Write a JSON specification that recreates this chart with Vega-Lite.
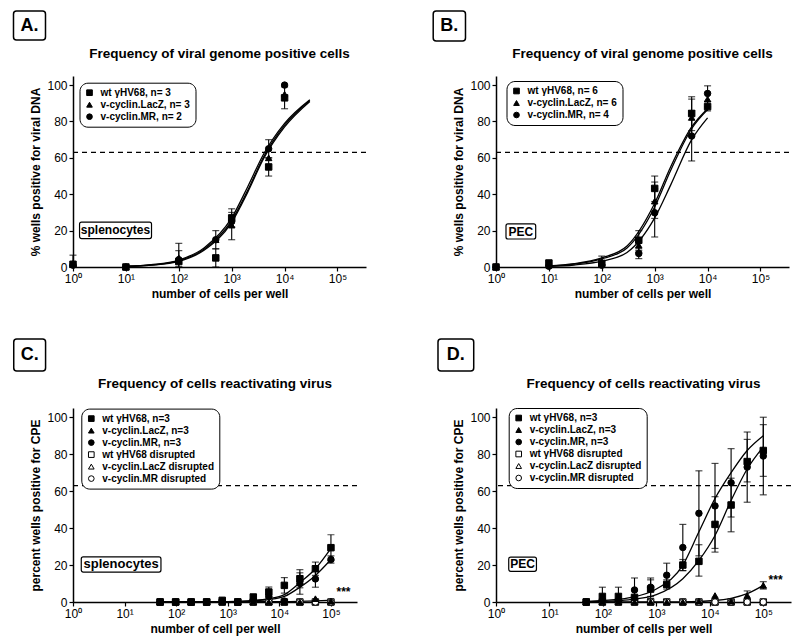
{
"$schema": "https://vega.github.io/schema/vega-lite/v6.json",
"background": "white",
"padding": {"left": 12, "top": 10, "right": 5, "bottom": 5},
"config": {
  "font": "Liberation Sans",
  "view": {"stroke": null},
  "axis": {"grid": false, "domainColor": "black", "domainWidth": 1.5, "tickColor": "black", "tickWidth": 1.2, "tickSize": 4, "labelColor": "black", "labelFontSize": 12, "labelPadding": 2, "labelOverlap": false, "labelFlush": false, "titleColor": "black", "titleFontSize": 12, "titleFontWeight": "bold", "titlePadding": 4},
  "title": {"fontSize": 13.5, "fontWeight": "bold", "color": "black", "frame": "group", "offset": 0},
  "legend": {"strokeColor": "black", "cornerRadius": 8, "padding": 5, "fillColor": "white", "labelFontSize": 10, "labelFontWeight": "bold", "labelColor": "black", "symbolSize": 32, "rowPadding": 2, "labelOffset": 6, "symbolStrokeWidth": 1, "symbolStrokeColor": "black"},
  "tick": {"orient": "horizontal", "size": 7, "thickness": 1.2, "color": "black"}
},
"datasets": {
  "pA": [
    {"x":1,"y":1,"s":"v-cyclin.MR, n= 2"},{"x":10,"y":0,"s":"v-cyclin.MR, n= 2"},{"x":100,"y":4,"s":"v-cyclin.MR, n= 2"},{"x":500,"y":15,"s":"v-cyclin.MR, n= 2"},{"x":1000,"y":25,"s":"v-cyclin.MR, n= 2"},{"x":5000,"y":65,"s":"v-cyclin.MR, n= 2","lo":60,"hi":70},{"x":10000,"y":100,"s":"v-cyclin.MR, n= 2"},
    {"x":1,"y":2,"s":"v-cyclin.LacZ, n= 3"},{"x":10,"y":0,"s":"v-cyclin.LacZ, n= 3"},{"x":100,"y":5,"s":"v-cyclin.LacZ, n= 3","lo":0,"hi":13},{"x":500,"y":15,"s":"v-cyclin.LacZ, n= 3","lo":10,"hi":20},{"x":1000,"y":23,"s":"v-cyclin.LacZ, n= 3","lo":15,"hi":30},{"x":5000,"y":60,"s":"v-cyclin.LacZ, n= 3"},{"x":10000,"y":95,"s":"v-cyclin.LacZ, n= 3"},
    {"x":1,"y":1.5,"s":"wt γHV68, n= 3","lo":0,"hi":6.5},{"x":10,"y":0,"s":"wt γHV68, n= 3"},{"x":100,"y":3,"s":"wt γHV68, n= 3","lo":0,"hi":9},{"x":500,"y":5,"s":"wt γHV68, n= 3","lo":0,"hi":10},{"x":1000,"y":27,"s":"wt γHV68, n= 3","lo":22,"hi":32},{"x":5000,"y":55,"s":"wt γHV68, n= 3","lo":50,"hi":60},{"x":10000,"y":93,"s":"wt γHV68, n= 3","lo":87,"hi":99}
  ],
  "cA": [
    {"x":10,"y":0.4,"c":"1"},{"x":30,"y":1.3,"c":"1"},{"x":100,"y":3.8,"c":"1"},{"x":300,"y":10.5,"c":"1"},{"x":1000,"y":27,"c":"1"},{"x":2000,"y":44,"c":"1"},{"x":4000,"y":62,"c":"1"},{"x":10000,"y":79,"c":"1"},{"x":30000,"y":92,"c":"1"},
    {"x":10,"y":0.3,"c":"2"},{"x":30,"y":1.1,"c":"2"},{"x":100,"y":3.4,"c":"2"},{"x":300,"y":9.8,"c":"2"},{"x":1000,"y":25.5,"c":"2"},{"x":2000,"y":42,"c":"2"},{"x":4000,"y":60.5,"c":"2"},{"x":10000,"y":78,"c":"2"},{"x":30000,"y":91.5,"c":"2"},
    {"x":10,"y":0.3,"c":"3"},{"x":30,"y":1.0,"c":"3"},{"x":100,"y":3.1,"c":"3"},{"x":300,"y":9.2,"c":"3"},{"x":1000,"y":24.5,"c":"3"},{"x":2000,"y":41,"c":"3"},{"x":4000,"y":59.5,"c":"3"},{"x":10000,"y":77,"c":"3"},{"x":30000,"y":91,"c":"3"}
  ],
  "pB": [
    {"x":1,"y":0,"s":"v-cyclin.MR, n= 4"},{"x":10,"y":0.4,"s":"v-cyclin.MR, n= 4"},{"x":100,"y":1,"s":"v-cyclin.MR, n= 4"},{"x":500,"y":7.4,"s":"v-cyclin.MR, n= 4","lo":4.6,"hi":10},{"x":1000,"y":29.8,"s":"v-cyclin.MR, n= 4","lo":16.5,"hi":43},{"x":5000,"y":72,"s":"v-cyclin.MR, n= 4","lo":58.3,"hi":86},{"x":10000,"y":95.4,"s":"v-cyclin.MR, n= 4","lo":91,"hi":99.6},
    {"x":1,"y":0,"s":"v-cyclin.LacZ, n= 6"},{"x":10,"y":1,"s":"v-cyclin.LacZ, n= 6"},{"x":100,"y":3,"s":"v-cyclin.LacZ, n= 6","lo":0,"hi":6},{"x":500,"y":12,"s":"v-cyclin.LacZ, n= 6","lo":8,"hi":16},{"x":1000,"y":36.2,"s":"v-cyclin.LacZ, n= 6","lo":26.7,"hi":46.7},{"x":5000,"y":82.2,"s":"v-cyclin.LacZ, n= 6","lo":72,"hi":92.3},{"x":10000,"y":92.3,"s":"v-cyclin.LacZ, n= 6","lo":88,"hi":96},
    {"x":1,"y":0,"s":"wt γHV68, n= 6"},{"x":10,"y":2.2,"s":"wt γHV68, n= 6"},{"x":100,"y":2,"s":"wt γHV68, n= 6"},{"x":500,"y":14.7,"s":"wt γHV68, n= 6","lo":9,"hi":20},{"x":1000,"y":43.2,"s":"wt γHV68, n= 6","lo":36,"hi":50},{"x":5000,"y":84.4,"s":"wt γHV68, n= 6","lo":75,"hi":93.6},{"x":10000,"y":88.2,"s":"wt γHV68, n= 6","lo":85.8,"hi":91}
  ],
  "cB": [
    {"x":10,"y":0.6,"c":"1"},{"x":30,"y":1.8,"c":"1"},{"x":100,"y":5,"c":"1"},{"x":300,"y":11.5,"c":"1"},{"x":1000,"y":35,"c":"1"},{"x":2000,"y":55,"c":"1"},{"x":5000,"y":77,"c":"1"},{"x":10000,"y":87,"c":"1"},
    {"x":10,"y":0.5,"c":"2"},{"x":30,"y":1.6,"c":"2"},{"x":100,"y":4.5,"c":"2"},{"x":300,"y":10.5,"c":"2"},{"x":1000,"y":33,"c":"2"},{"x":2000,"y":53,"c":"2"},{"x":5000,"y":76,"c":"2"},{"x":10000,"y":86.5,"c":"2"},
    {"x":10,"y":0.3,"c":"3"},{"x":30,"y":1.1,"c":"3"},{"x":100,"y":3.2,"c":"3"},{"x":300,"y":8,"c":"3"},{"x":1000,"y":27,"c":"3"},{"x":2000,"y":45,"c":"3"},{"x":5000,"y":70,"c":"3"},{"x":10000,"y":82,"c":"3"}
  ],
  "pC": [
    {"x":48.8,"y":0,"s":"wt γHV68 disrupted"},{"x":97.7,"y":0,"s":"wt γHV68 disrupted"},{"x":195,"y":0,"s":"wt γHV68 disrupted"},{"x":390,"y":0,"s":"wt γHV68 disrupted"},{"x":781,"y":0,"s":"wt γHV68 disrupted"},{"x":1562,"y":0,"s":"wt γHV68 disrupted"},{"x":3125,"y":0,"s":"wt γHV68 disrupted"},{"x":6250,"y":0,"s":"wt γHV68 disrupted"},{"x":12500,"y":0,"s":"wt γHV68 disrupted"},{"x":25000,"y":0,"s":"wt γHV68 disrupted"},{"x":50000,"y":0,"s":"wt γHV68 disrupted"},{"x":100000,"y":0,"s":"wt γHV68 disrupted"},
    {"x":48.8,"y":0,"s":"v-cyclin.LacZ disrupted"},{"x":97.7,"y":0,"s":"v-cyclin.LacZ disrupted"},{"x":195,"y":0,"s":"v-cyclin.LacZ disrupted"},{"x":390,"y":0,"s":"v-cyclin.LacZ disrupted"},{"x":781,"y":0,"s":"v-cyclin.LacZ disrupted"},{"x":1562,"y":0,"s":"v-cyclin.LacZ disrupted"},{"x":3125,"y":0,"s":"v-cyclin.LacZ disrupted"},{"x":6250,"y":0,"s":"v-cyclin.LacZ disrupted"},{"x":12500,"y":0,"s":"v-cyclin.LacZ disrupted"},{"x":25000,"y":0,"s":"v-cyclin.LacZ disrupted"},{"x":50000,"y":0,"s":"v-cyclin.LacZ disrupted"},{"x":100000,"y":0,"s":"v-cyclin.LacZ disrupted"},
    {"x":48.8,"y":0,"s":"v-cyclin.MR disrupted"},{"x":97.7,"y":0,"s":"v-cyclin.MR disrupted"},{"x":195,"y":0,"s":"v-cyclin.MR disrupted"},{"x":390,"y":0,"s":"v-cyclin.MR disrupted"},{"x":781,"y":0,"s":"v-cyclin.MR disrupted"},{"x":1562,"y":0,"s":"v-cyclin.MR disrupted"},{"x":3125,"y":0,"s":"v-cyclin.MR disrupted"},{"x":6250,"y":0,"s":"v-cyclin.MR disrupted"},{"x":12500,"y":0,"s":"v-cyclin.MR disrupted"},{"x":25000,"y":0,"s":"v-cyclin.MR disrupted"},{"x":50000,"y":0,"s":"v-cyclin.MR disrupted"},{"x":100000,"y":0,"s":"v-cyclin.MR disrupted"},
    {"x":48.8,"y":0,"s":"v-cyclin.MR, n=3"},{"x":97.7,"y":0,"s":"v-cyclin.MR, n=3"},{"x":195,"y":0,"s":"v-cyclin.MR, n=3"},{"x":390,"y":0,"s":"v-cyclin.MR, n=3"},{"x":781,"y":0.5,"s":"v-cyclin.MR, n=3"},{"x":1562,"y":0,"s":"v-cyclin.MR, n=3"},{"x":3125,"y":1,"s":"v-cyclin.MR, n=3"},{"x":6250,"y":3,"s":"v-cyclin.MR, n=3"},{"x":12500,"y":0.5,"s":"v-cyclin.MR, n=3"},{"x":25000,"y":10,"s":"v-cyclin.MR, n=3","lo":4.2,"hi":15.8},{"x":50000,"y":12.5,"s":"v-cyclin.MR, n=3","lo":8,"hi":17},{"x":100000,"y":23,"s":"v-cyclin.MR, n=3","lo":21,"hi":25},
    {"x":48.8,"y":0,"s":"v-cyclin.LacZ, n=3"},{"x":97.7,"y":0,"s":"v-cyclin.LacZ, n=3"},{"x":195,"y":0,"s":"v-cyclin.LacZ, n=3"},{"x":390,"y":0,"s":"v-cyclin.LacZ, n=3"},{"x":781,"y":0,"s":"v-cyclin.LacZ, n=3"},{"x":1562,"y":0,"s":"v-cyclin.LacZ, n=3"},{"x":3125,"y":0,"s":"v-cyclin.LacZ, n=3"},{"x":6250,"y":0,"s":"v-cyclin.LacZ, n=3"},{"x":12500,"y":0,"s":"v-cyclin.LacZ, n=3"},{"x":25000,"y":0,"s":"v-cyclin.LacZ, n=3"},{"x":50000,"y":1.8,"s":"v-cyclin.LacZ, n=3"},{"x":100000,"y":0.5,"s":"v-cyclin.LacZ, n=3"},
    {"x":48.8,"y":0,"s":"wt γHV68, n=3"},{"x":97.7,"y":0,"s":"wt γHV68, n=3"},{"x":195,"y":0,"s":"wt γHV68, n=3"},{"x":390,"y":0,"s":"wt γHV68, n=3"},{"x":781,"y":0.9,"s":"wt γHV68, n=3"},{"x":1562,"y":0,"s":"wt γHV68, n=3"},{"x":3125,"y":2.7,"s":"wt γHV68, n=3"},{"x":6250,"y":5.4,"s":"wt γHV68, n=3","lo":2.7,"hi":8.1},{"x":12500,"y":9,"s":"wt γHV68, n=3","lo":4.8,"hi":13.2},{"x":25000,"y":12.6,"s":"wt γHV68, n=3","lo":7.7,"hi":17.5},{"x":50000,"y":18,"s":"wt γHV68, n=3","lo":14.4,"hi":21.6},{"x":100000,"y":29.4,"s":"wt γHV68, n=3","lo":22.4,"hi":36.4}
  ],
  "cC": [
    {"x":48.8,"y":0,"c":"wt"},{"x":1000,"y":0.2,"c":"wt"},{"x":3125,"y":0.8,"c":"wt"},{"x":6250,"y":1.8,"c":"wt"},{"x":12500,"y":4,"c":"wt"},{"x":25000,"y":10.5,"c":"wt"},{"x":50000,"y":18,"c":"wt"},{"x":100000,"y":29,"c":"wt"},
    {"x":48.8,"y":0,"c":"mr"},{"x":1000,"y":0.1,"c":"mr"},{"x":3125,"y":0.6,"c":"mr"},{"x":6250,"y":1.3,"c":"mr"},{"x":12500,"y":3,"c":"mr"},{"x":25000,"y":8,"c":"mr"},{"x":50000,"y":14.4,"c":"mr"},{"x":100000,"y":23,"c":"mr"},
    {"x":48.8,"y":0,"c":"lacz"},{"x":10000,"y":0.2,"c":"lacz"},{"x":50000,"y":0.6,"c":"lacz"},{"x":100000,"y":1,"c":"lacz"}
  ],
  "pD": [
    {"x":48.8,"y":0,"s":"wt γHV68 disrupted"},{"x":97.7,"y":0,"s":"wt γHV68 disrupted"},{"x":195,"y":0,"s":"wt γHV68 disrupted"},{"x":390,"y":0,"s":"wt γHV68 disrupted"},{"x":781,"y":0,"s":"wt γHV68 disrupted"},{"x":1562,"y":0,"s":"wt γHV68 disrupted"},{"x":3125,"y":0,"s":"wt γHV68 disrupted"},{"x":6250,"y":0,"s":"wt γHV68 disrupted"},{"x":12500,"y":0,"s":"wt γHV68 disrupted"},{"x":25000,"y":0,"s":"wt γHV68 disrupted"},{"x":50000,"y":0,"s":"wt γHV68 disrupted"},{"x":100000,"y":0,"s":"wt γHV68 disrupted"},
    {"x":48.8,"y":0,"s":"v-cyclin.LacZ disrupted"},{"x":97.7,"y":0,"s":"v-cyclin.LacZ disrupted"},{"x":195,"y":0,"s":"v-cyclin.LacZ disrupted"},{"x":390,"y":0,"s":"v-cyclin.LacZ disrupted"},{"x":781,"y":0,"s":"v-cyclin.LacZ disrupted"},{"x":1562,"y":0,"s":"v-cyclin.LacZ disrupted"},{"x":3125,"y":0,"s":"v-cyclin.LacZ disrupted"},{"x":6250,"y":0,"s":"v-cyclin.LacZ disrupted"},{"x":12500,"y":0,"s":"v-cyclin.LacZ disrupted"},{"x":25000,"y":0,"s":"v-cyclin.LacZ disrupted"},{"x":50000,"y":0,"s":"v-cyclin.LacZ disrupted"},{"x":100000,"y":0,"s":"v-cyclin.LacZ disrupted"},
    {"x":48.8,"y":0,"s":"v-cyclin.MR disrupted"},{"x":97.7,"y":0,"s":"v-cyclin.MR disrupted"},{"x":195,"y":0,"s":"v-cyclin.MR disrupted"},{"x":390,"y":0,"s":"v-cyclin.MR disrupted"},{"x":781,"y":0,"s":"v-cyclin.MR disrupted"},{"x":1562,"y":0,"s":"v-cyclin.MR disrupted"},{"x":3125,"y":0,"s":"v-cyclin.MR disrupted"},{"x":6250,"y":0,"s":"v-cyclin.MR disrupted"},{"x":12500,"y":0,"s":"v-cyclin.MR disrupted"},{"x":25000,"y":0,"s":"v-cyclin.MR disrupted"},{"x":50000,"y":0,"s":"v-cyclin.MR disrupted"},{"x":100000,"y":0,"s":"v-cyclin.MR disrupted"},
    {"x":48.8,"y":0,"s":"v-cyclin.MR, n=3"},{"x":97.7,"y":1,"s":"v-cyclin.MR, n=3"},{"x":195,"y":1,"s":"v-cyclin.MR, n=3"},{"x":390,"y":6.5,"s":"v-cyclin.MR, n=3","lo":0,"hi":13},{"x":781,"y":8,"s":"v-cyclin.MR, n=3","lo":3,"hi":13},{"x":1562,"y":14.5,"s":"v-cyclin.MR, n=3","lo":8,"hi":21},{"x":3125,"y":29.5,"s":"v-cyclin.MR, n=3","lo":17,"hi":42},{"x":6250,"y":48,"s":"v-cyclin.MR, n=3","lo":25,"hi":71},{"x":12500,"y":52,"s":"v-cyclin.MR, n=3","lo":29,"hi":75},{"x":25000,"y":64.5,"s":"v-cyclin.MR, n=3","lo":46,"hi":83},{"x":50000,"y":73,"s":"v-cyclin.MR, n=3","lo":54,"hi":92},{"x":100000,"y":79,"s":"v-cyclin.MR, n=3","lo":58,"hi":100},
    {"x":48.8,"y":0,"s":"v-cyclin.LacZ, n=3"},{"x":97.7,"y":0,"s":"v-cyclin.LacZ, n=3"},{"x":195,"y":0,"s":"v-cyclin.LacZ, n=3"},{"x":390,"y":0,"s":"v-cyclin.LacZ, n=3"},{"x":781,"y":0,"s":"v-cyclin.LacZ, n=3"},{"x":1562,"y":0,"s":"v-cyclin.LacZ, n=3"},{"x":3125,"y":0,"s":"v-cyclin.LacZ, n=3"},{"x":6250,"y":0.5,"s":"v-cyclin.LacZ, n=3"},{"x":12500,"y":3.5,"s":"v-cyclin.LacZ, n=3"},{"x":25000,"y":0.5,"s":"v-cyclin.LacZ, n=3"},{"x":50000,"y":3.5,"s":"v-cyclin.LacZ, n=3","lo":1,"hi":6},{"x":100000,"y":9,"s":"v-cyclin.LacZ, n=3","lo":7,"hi":11},
    {"x":48.8,"y":0,"s":"wt γHV68, n=3"},{"x":97.7,"y":3,"s":"wt γHV68, n=3","lo":0,"hi":8},{"x":195,"y":3,"s":"wt γHV68, n=3","lo":0,"hi":8},{"x":390,"y":2.5,"s":"wt γHV68, n=3"},{"x":781,"y":7,"s":"wt γHV68, n=3","lo":2,"hi":12},{"x":1562,"y":9.5,"s":"wt γHV68, n=3","lo":7,"hi":12},{"x":3125,"y":20,"s":"wt γHV68, n=3","lo":17,"hi":23},{"x":6250,"y":22,"s":"wt γHV68, n=3","lo":14,"hi":31},{"x":12500,"y":42,"s":"wt γHV68, n=3","lo":27,"hi":57},{"x":25000,"y":52.5,"s":"wt γHV68, n=3","lo":38,"hi":67},{"x":50000,"y":76,"s":"wt γHV68, n=3","lo":65,"hi":88},{"x":100000,"y":82,"s":"wt γHV68, n=3","lo":68,"hi":96}
  ],
  "cD": [
    {"x":48.8,"y":0.3,"c":"mr"},{"x":100,"y":0.8,"c":"mr"},{"x":300,"y":2.2,"c":"mr"},{"x":1000,"y":7,"c":"mr"},{"x":3125,"y":20,"c":"mr"},{"x":6250,"y":38,"c":"mr"},{"x":12500,"y":56,"c":"mr"},{"x":25000,"y":70,"c":"mr"},{"x":50000,"y":82,"c":"mr"},{"x":100000,"y":90,"c":"mr"},
    {"x":48.8,"y":0.1,"c":"wt"},{"x":100,"y":0.4,"c":"wt"},{"x":300,"y":1.2,"c":"wt"},{"x":1000,"y":4,"c":"wt"},{"x":3125,"y":12.6,"c":"wt"},{"x":6250,"y":22.5,"c":"wt"},{"x":12500,"y":36,"c":"wt"},{"x":25000,"y":55,"c":"wt"},{"x":50000,"y":72,"c":"wt"},{"x":100000,"y":84,"c":"wt"},
    {"x":48.8,"y":0,"c":"lacz"},{"x":3125,"y":0.1,"c":"lacz"},{"x":12500,"y":0.8,"c":"lacz"},{"x":25000,"y":2,"c":"lacz"},{"x":50000,"y":4.5,"c":"lacz"},{"x":100000,"y":9,"c":"lacz"}
  ]
},
"columns": 2,
"align": "none",
"bounds": "flush",
"spacing": {"row": 141, "column": 130},
"resolve": {"scale": {"shape": "independent", "fill": "independent", "stroke": "independent", "x": "independent", "y": "independent"}, "legend": {"shape": "independent", "fill": "independent", "stroke": "independent"}},
"concat": [
 {
  "width": 293, "height": 191,
  "title": {"text": "Frequency of viral genome positive cells", "dy": 54},
  "layer": [
    {"data": {"name": "cA"}, "mark": {"type": "line", "interpolate": "monotone", "color": "black", "strokeWidth": 1.3},
     "encoding": {"x": {"field": "x", "type": "quantitative", "scale": {"type": "log", "domain": [1, 346000], "nice": false}, "axis": {"values": [1,10,100,1000,10000,100000], "labelExpr": "'10' + ['⁰','¹','²','³','⁴','⁵'][round(log(datum.value)/LN10)]", "title": "number of cells per well"}},
       "y": {"field": "y", "type": "quantitative", "scale": {"domain": [0, 105], "nice": false}, "axis": {"values": [0,20,40,60,80,100], "title": "% wells positive  for viral DNA"}},
       "detail": {"field": "c"}}},
    {"data": {"values": [{}]}, "mark": {"type": "rule", "strokeDash": [5, 4], "strokeWidth": 1.3, "color": "black"},
     "encoding": {"y": {"datum": 63, "type": "quantitative", "scale": {"domain": [0, 105], "nice": false}, "axis": {"values": [0,20,40,60,80,100], "title": "% wells positive  for viral DNA"}}}},
    {"data": {"name": "pA"}, "transform": [{"filter": "isValid(datum.hi)"}],
     "layer": [
       {"mark": {"type": "rule", "color": "black", "strokeWidth": 1.1}, "encoding": {"y": {"field": "lo", "type": "quantitative", "scale": {"domain": [0, 105], "nice": false}, "axis": {"values": [0,20,40,60,80,100], "title": "% wells positive  for viral DNA"}}, "y2": {"field": "hi"}}},
       {"mark": {"type": "tick"}, "encoding": {"y": {"field": "hi", "type": "quantitative", "scale": {"domain": [0, 105], "nice": false}, "axis": {"values": [0,20,40,60,80,100], "title": "% wells positive  for viral DNA"}}}},
       {"mark": {"type": "tick"}, "encoding": {"y": {"field": "lo", "type": "quantitative", "scale": {"domain": [0, 105], "nice": false}, "axis": {"values": [0,20,40,60,80,100], "title": "% wells positive  for viral DNA"}}}}
     ],
     "encoding": {"x": {"field": "x", "type": "quantitative"}}},
    {"data": {"name": "pA"}, "mark": {"type": "point", "filled": true, "strokeWidth": 1, "size": 42, "opacity": 1},
     "encoding": {"x": {"field": "x", "type": "quantitative"},
       "y": {"field": "y", "type": "quantitative", "scale": {"domain": [0, 105], "nice": false}, "axis": {"values": [0,20,40,60,80,100], "title": "% wells positive  for viral DNA"}},
       "shape": {"field": "s", "type": "nominal", "scale": {"domain": ["wt γHV68, n= 3", "v-cyclin.LacZ, n= 3", "v-cyclin.MR, n= 2"], "range": ["square", "triangle-up", "circle"]}, "legend": {"title": null, "orient": "none", "legendX": 6.5, "legendY": 6.7}},
       "fill": {"field": "s", "type": "nominal", "scale": {"domain": ["wt γHV68, n= 3", "v-cyclin.LacZ, n= 3", "v-cyclin.MR, n= 2"], "range": ["black", "black", "black"]}, "legend": {"title": null, "orient": "none", "legendX": 6.5, "legendY": 6.7}},
       "stroke": {"field": "s", "type": "nominal", "scale": {"domain": ["wt γHV68, n= 3", "v-cyclin.LacZ, n= 3", "v-cyclin.MR, n= 2"], "range": ["black", "black", "black"]}, "legend": {"title": null, "orient": "none", "legendX": 6.5, "legendY": 6.7}}}},
    {"data": {"values": [{"t": "splenocytes"}]},
     "layer": [
       {"mark": {"type": "rect", "fill": "white", "stroke": "black", "strokeWidth": 1.2, "cornerRadius": 2},
        "encoding": {"x": {"datum": 1.33, "type": "quantitative"}, "x2": {"datum": 30.5}, "y": {"datum": 24.7, "type": "quantitative", "scale": {"domain": [0, 105], "nice": false}, "axis": {"values": [0,20,40,60,80,100], "title": "% wells positive  for viral DNA"}}, "y2": {"datum": 15.6}}},
       {"mark": {"type": "text", "fontSize": 12, "fontWeight": "bold", "color": "black", "baseline": "middle"},
        "encoding": {"x": {"datum": 6.36, "type": "quantitative"}, "y": {"datum": 20.2, "type": "quantitative", "scale": {"domain": [0, 105], "nice": false}, "axis": {"values": [0,20,40,60,80,100], "title": "% wells positive  for viral DNA"}}, "text": {"field": "t"}}}
     ]},
    {"data": {"values": [{"t": "A."}]},
     "layer": [
       {"mark": {"type": "rect", "fill": "white", "stroke": "black", "strokeWidth": 1.5, "cornerRadius": 3},
        "encoding": {"x": {"datum": 0.075, "type": "quantitative"}, "x2": {"datum": 0.302}, "y": {"datum": 140.7, "type": "quantitative", "scale": {"domain": [0, 105], "nice": false}, "axis": {"values": [0,20,40,60,80,100], "title": "% wells positive  for viral DNA"}}, "y2": {"datum": 124.8}}},
       {"mark": {"type": "text", "fontSize": 18, "fontWeight": "bold", "color": "black", "baseline": "middle"},
        "encoding": {"x": {"datum": 0.1505, "type": "quantitative"}, "y": {"datum": 132.7, "type": "quantitative", "scale": {"domain": [0, 105], "nice": false}, "axis": {"values": [0,20,40,60,80,100], "title": "% wells positive  for viral DNA"}}, "text": {"field": "t"}}}
     ]}
  ]
 },
 {
  "width": 293, "height": 191,
  "title": {"text": "Frequency of viral genome positive cells", "dy": 54},
  "layer": [
    {"data": {"name": "cB"}, "mark": {"type": "line", "interpolate": "monotone", "color": "black", "strokeWidth": 1.3},
     "encoding": {"x": {"field": "x", "type": "quantitative", "scale": {"type": "log", "domain": [1, 346000], "nice": false}, "axis": {"values": [1,10,100,1000,10000,100000], "labelExpr": "'10' + ['⁰','¹','²','³','⁴','⁵'][round(log(datum.value)/LN10)]", "title": "number of cells per well"}},
       "y": {"field": "y", "type": "quantitative", "scale": {"domain": [0, 105], "nice": false}, "axis": {"values": [0,20,40,60,80,100], "title": "% wells positive  for viral DNA"}},
       "detail": {"field": "c"}}},
    {"data": {"values": [{}]}, "mark": {"type": "rule", "strokeDash": [5, 4], "strokeWidth": 1.3, "color": "black"},
     "encoding": {"y": {"datum": 63, "type": "quantitative", "scale": {"domain": [0, 105], "nice": false}, "axis": {"values": [0,20,40,60,80,100], "title": "% wells positive  for viral DNA"}}}},
    {"data": {"name": "pB"}, "transform": [{"filter": "isValid(datum.hi)"}],
     "layer": [
       {"mark": {"type": "rule", "color": "black", "strokeWidth": 1.1}, "encoding": {"y": {"field": "lo", "type": "quantitative", "scale": {"domain": [0, 105], "nice": false}, "axis": {"values": [0,20,40,60,80,100], "title": "% wells positive  for viral DNA"}}, "y2": {"field": "hi"}}},
       {"mark": {"type": "tick"}, "encoding": {"y": {"field": "hi", "type": "quantitative", "scale": {"domain": [0, 105], "nice": false}, "axis": {"values": [0,20,40,60,80,100], "title": "% wells positive  for viral DNA"}}}},
       {"mark": {"type": "tick"}, "encoding": {"y": {"field": "lo", "type": "quantitative", "scale": {"domain": [0, 105], "nice": false}, "axis": {"values": [0,20,40,60,80,100], "title": "% wells positive  for viral DNA"}}}}
     ],
     "encoding": {"x": {"field": "x", "type": "quantitative"}}},
    {"data": {"name": "pB"}, "mark": {"type": "point", "filled": true, "strokeWidth": 1, "size": 42, "opacity": 1},
     "encoding": {"x": {"field": "x", "type": "quantitative"},
       "y": {"field": "y", "type": "quantitative", "scale": {"domain": [0, 105], "nice": false}, "axis": {"values": [0,20,40,60,80,100], "title": "% wells positive  for viral DNA"}},
       "shape": {"field": "s", "type": "nominal", "scale": {"domain": ["wt γHV68, n= 6", "v-cyclin.LacZ, n= 6", "v-cyclin.MR, n= 4"], "range": ["square", "triangle-up", "circle"]}, "legend": {"title": null, "orient": "none", "legendX": 10.5, "legendY": 5}},
       "fill": {"field": "s", "type": "nominal", "scale": {"domain": ["wt γHV68, n= 6", "v-cyclin.LacZ, n= 6", "v-cyclin.MR, n= 4"], "range": ["black", "black", "black"]}, "legend": {"title": null, "orient": "none", "legendX": 10.5, "legendY": 5}},
       "stroke": {"field": "s", "type": "nominal", "scale": {"domain": ["wt γHV68, n= 6", "v-cyclin.LacZ, n= 6", "v-cyclin.MR, n= 4"], "range": ["black", "black", "black"]}, "legend": {"title": null, "orient": "none", "legendX": 10.5, "legendY": 5}}}},
    {"data": {"values": [{"t": "PEC"}]},
     "layer": [
       {"mark": {"type": "rect", "fill": "white", "stroke": "black", "strokeWidth": 1.2, "cornerRadius": 2},
        "encoding": {"x": {"datum": 1.545, "type": "quantitative"}, "x2": {"datum": 5.63}, "y": {"datum": 23.7, "type": "quantitative", "scale": {"domain": [0, 105], "nice": false}, "axis": {"values": [0,20,40,60,80,100], "title": "% wells positive  for viral DNA"}}, "y2": {"datum": 15.4}}},
       {"mark": {"type": "text", "fontSize": 12, "fontWeight": "bold", "color": "black", "baseline": "middle"},
        "encoding": {"x": {"datum": 2.95, "type": "quantitative"}, "y": {"datum": 19.5, "type": "quantitative", "scale": {"domain": [0, 105], "nice": false}, "axis": {"values": [0,20,40,60,80,100], "title": "% wells positive  for viral DNA"}}, "text": {"field": "t"}}}
     ]},
    {"data": {"values": [{"t": "B."}]},
     "layer": [
       {"mark": {"type": "rect", "fill": "white", "stroke": "black", "strokeWidth": 1.5, "cornerRadius": 3},
        "encoding": {"x": {"datum": 0.065, "type": "quantitative"}, "x2": {"datum": 0.265}, "y": {"datum": 140.7, "type": "quantitative", "scale": {"domain": [0, 105], "nice": false}, "axis": {"values": [0,20,40,60,80,100], "title": "% wells positive  for viral DNA"}}, "y2": {"datum": 124.2}}},
       {"mark": {"type": "text", "fontSize": 18, "fontWeight": "bold", "color": "black", "baseline": "middle"},
        "encoding": {"x": {"datum": 0.131, "type": "quantitative"}, "y": {"datum": 132.5, "type": "quantitative", "scale": {"domain": [0, 105], "nice": false}, "axis": {"values": [0,20,40,60,80,100], "title": "% wells positive  for viral DNA"}}, "text": {"field": "t"}}}
     ]}
  ]
 },
 {
  "width": 284, "height": 194,
  "title": {"text": "Frequency of cells reactivating virus", "dy": 56},
  "layer": [
    {"data": {"name": "cC"}, "mark": {"type": "line", "interpolate": "monotone", "color": "black", "strokeWidth": 1.3},
     "encoding": {"x": {"field": "x", "type": "quantitative", "scale": {"type": "log", "domain": [1, 320000], "nice": false}, "axis": {"values": [1,10,100,1000,10000,100000], "labelExpr": "'10' + ['⁰','¹','²','³','⁴','⁵'][round(log(datum.value)/LN10)]", "title": "number of cell per well"}},
       "y": {"field": "y", "type": "quantitative", "scale": {"domain": [0, 105], "nice": false}, "axis": {"values": [0,20,40,60,80,100], "title": "percent wells positive for CPE"}},
       "detail": {"field": "c"}}},
    {"data": {"values": [{}]}, "mark": {"type": "rule", "strokeDash": [5, 4], "strokeWidth": 1.3, "color": "black"},
     "encoding": {"y": {"datum": 63, "type": "quantitative", "scale": {"domain": [0, 105], "nice": false}, "axis": {"values": [0,20,40,60,80,100], "title": "percent wells positive for CPE"}}}},
    {"data": {"name": "pC"}, "transform": [{"filter": "isValid(datum.hi)"}],
     "layer": [
       {"mark": {"type": "rule", "color": "black", "strokeWidth": 1.1}, "encoding": {"y": {"field": "lo", "type": "quantitative", "scale": {"domain": [0, 105], "nice": false}, "axis": {"values": [0,20,40,60,80,100], "title": "percent wells positive for CPE"}}, "y2": {"field": "hi"}}},
       {"mark": {"type": "tick"}, "encoding": {"y": {"field": "hi", "type": "quantitative", "scale": {"domain": [0, 105], "nice": false}, "axis": {"values": [0,20,40,60,80,100], "title": "percent wells positive for CPE"}}}},
       {"mark": {"type": "tick"}, "encoding": {"y": {"field": "lo", "type": "quantitative", "scale": {"domain": [0, 105], "nice": false}, "axis": {"values": [0,20,40,60,80,100], "title": "percent wells positive for CPE"}}}}
     ],
     "encoding": {"x": {"field": "x", "type": "quantitative"}}},
    {"data": {"name": "pC"}, "mark": {"type": "point", "filled": true, "strokeWidth": 1, "size": 42, "opacity": 1},
     "encoding": {"x": {"field": "x", "type": "quantitative"},
       "y": {"field": "y", "type": "quantitative", "scale": {"domain": [0, 105], "nice": false}, "axis": {"values": [0,20,40,60,80,100], "title": "percent wells positive for CPE"}},
       "shape": {"field": "s", "type": "nominal", "scale": {"domain": ["wt γHV68, n=3", "v-cyclin.LacZ, n=3", "v-cyclin.MR, n=3", "wt γHV68 disrupted", "v-cyclin.LacZ disrupted", "v-cyclin.MR disrupted"], "range": ["square", "triangle-up", "circle", "square", "triangle-up", "circle"]}, "legend": {"title": null, "orient": "none", "legendX": 8.3, "legendY": 0.6}},
       "fill": {"field": "s", "type": "nominal", "scale": {"domain": ["wt γHV68, n=3", "v-cyclin.LacZ, n=3", "v-cyclin.MR, n=3", "wt γHV68 disrupted", "v-cyclin.LacZ disrupted", "v-cyclin.MR disrupted"], "range": ["black", "black", "black", "white", "white", "white"]}, "legend": {"title": null, "orient": "none", "legendX": 8.3, "legendY": 0.6}},
       "stroke": {"field": "s", "type": "nominal", "scale": {"domain": ["wt γHV68, n=3", "v-cyclin.LacZ, n=3", "v-cyclin.MR, n=3", "wt γHV68 disrupted", "v-cyclin.LacZ disrupted", "v-cyclin.MR disrupted"], "range": ["black", "black", "black", "black", "black", "black"]}, "legend": {"title": null, "orient": "none", "legendX": 8.3, "legendY": 0.6}}}},
    {"data": {"values": [{"t": "***"}]}, "mark": {"type": "text", "fontSize": 12, "fontWeight": "bold", "color": "black", "baseline": "middle"},
     "encoding": {"x": {"datum": 175000, "type": "quantitative"}, "y": {"datum": 5.5, "type": "quantitative", "scale": {"domain": [0, 105], "nice": false}, "axis": {"values": [0,20,40,60,80,100], "title": "percent wells positive for CPE"}}, "text": {"field": "t"}}},
    {"data": {"values": [{"t": "splenocytes"}]},
     "layer": [
       {"mark": {"type": "rect", "fill": "white", "stroke": "black", "strokeWidth": 1.2, "cornerRadius": 2},
        "encoding": {"x": {"datum": 1.446, "type": "quantitative"}, "x2": {"datum": 50.7}, "y": {"datum": 24.4, "type": "quantitative", "scale": {"domain": [0, 105], "nice": false}, "axis": {"values": [0,20,40,60,80,100], "title": "percent wells positive for CPE"}}, "y2": {"datum": 16.2}}},
       {"mark": {"type": "text", "fontSize": 13, "fontWeight": "bold", "color": "black", "baseline": "middle"},
        "encoding": {"x": {"datum": 8.56, "type": "quantitative"}, "y": {"datum": 20.3, "type": "quantitative", "scale": {"domain": [0, 105], "nice": false}, "axis": {"values": [0,20,40,60,80,100], "title": "percent wells positive for CPE"}}, "text": {"field": "t"}}}
     ]},
    {"data": {"values": [{"t": "C."}]},
     "layer": [
       {"mark": {"type": "rect", "fill": "white", "stroke": "black", "strokeWidth": 1.5, "cornerRadius": 3},
        "encoding": {"x": {"datum": 0.071, "type": "quantitative"}, "x2": {"datum": 0.294}, "y": {"datum": 142.3, "type": "quantitative", "scale": {"domain": [0, 105], "nice": false}, "axis": {"values": [0,20,40,60,80,100], "title": "percent wells positive for CPE"}}, "y2": {"datum": 125}}},
       {"mark": {"type": "text", "fontSize": 18, "fontWeight": "bold", "color": "black", "baseline": "middle"},
        "encoding": {"x": {"datum": 0.1445, "type": "quantitative"}, "y": {"datum": 133.6, "type": "quantitative", "scale": {"domain": [0, 105], "nice": false}, "axis": {"values": [0,20,40,60,80,100], "title": "percent wells positive for CPE"}}, "text": {"field": "t"}}}
     ]}
  ]
 },
 {
  "width": 295, "height": 194,
  "title": {"text": "Frequency of cells reactivating virus", "dy": 56},
  "layer": [
    {"data": {"name": "cD"}, "mark": {"type": "line", "interpolate": "monotone", "color": "black", "strokeWidth": 1.3},
     "encoding": {"x": {"field": "x", "type": "quantitative", "scale": {"type": "log", "domain": [1, 330000], "nice": false}, "axis": {"values": [1,10,100,1000,10000,100000], "labelExpr": "'10' + ['⁰','¹','²','³','⁴','⁵'][round(log(datum.value)/LN10)]", "title": "number of cells per well"}},
       "y": {"field": "y", "type": "quantitative", "scale": {"domain": [0, 105], "nice": false}, "axis": {"values": [0,20,40,60,80,100], "title": "percent wells positive for CPE"}},
       "detail": {"field": "c"}}},
    {"data": {"values": [{}]}, "mark": {"type": "rule", "strokeDash": [5, 4], "strokeWidth": 1.3, "color": "black"},
     "encoding": {"y": {"datum": 63, "type": "quantitative", "scale": {"domain": [0, 105], "nice": false}, "axis": {"values": [0,20,40,60,80,100], "title": "percent wells positive for CPE"}}}},
    {"data": {"name": "pD"}, "transform": [{"filter": "isValid(datum.hi)"}],
     "layer": [
       {"mark": {"type": "rule", "color": "black", "strokeWidth": 1.1}, "encoding": {"y": {"field": "lo", "type": "quantitative", "scale": {"domain": [0, 105], "nice": false}, "axis": {"values": [0,20,40,60,80,100], "title": "percent wells positive for CPE"}}, "y2": {"field": "hi"}}},
       {"mark": {"type": "tick"}, "encoding": {"y": {"field": "hi", "type": "quantitative", "scale": {"domain": [0, 105], "nice": false}, "axis": {"values": [0,20,40,60,80,100], "title": "percent wells positive for CPE"}}}},
       {"mark": {"type": "tick"}, "encoding": {"y": {"field": "lo", "type": "quantitative", "scale": {"domain": [0, 105], "nice": false}, "axis": {"values": [0,20,40,60,80,100], "title": "percent wells positive for CPE"}}}}
     ],
     "encoding": {"x": {"field": "x", "type": "quantitative"}}},
    {"data": {"name": "pD"}, "mark": {"type": "point", "filled": true, "strokeWidth": 1, "size": 42, "opacity": 1},
     "encoding": {"x": {"field": "x", "type": "quantitative"},
       "y": {"field": "y", "type": "quantitative", "scale": {"domain": [0, 105], "nice": false}, "axis": {"values": [0,20,40,60,80,100], "title": "percent wells positive for CPE"}},
       "shape": {"field": "s", "type": "nominal", "scale": {"domain": ["wt γHV68, n=3", "v-cyclin.LacZ, n=3", "v-cyclin.MR, n=3", "wt γHV68 disrupted", "v-cyclin.LacZ disrupted", "v-cyclin.MR disrupted"], "range": ["square", "triangle-up", "circle", "square", "triangle-up", "circle"]}, "legend": {"title": null, "orient": "none", "legendX": 12.7, "legendY": 0}},
       "fill": {"field": "s", "type": "nominal", "scale": {"domain": ["wt γHV68, n=3", "v-cyclin.LacZ, n=3", "v-cyclin.MR, n=3", "wt γHV68 disrupted", "v-cyclin.LacZ disrupted", "v-cyclin.MR disrupted"], "range": ["black", "black", "black", "white", "white", "white"]}, "legend": {"title": null, "orient": "none", "legendX": 12.7, "legendY": 0}},
       "stroke": {"field": "s", "type": "nominal", "scale": {"domain": ["wt γHV68, n=3", "v-cyclin.LacZ, n=3", "v-cyclin.MR, n=3", "wt γHV68 disrupted", "v-cyclin.LacZ disrupted", "v-cyclin.MR disrupted"], "range": ["black", "black", "black", "black", "black", "black"]}, "legend": {"title": null, "orient": "none", "legendX": 12.7, "legendY": 0}}}},
    {"data": {"values": [{"t": "***"}]}, "mark": {"type": "text", "fontSize": 12, "fontWeight": "bold", "color": "black", "baseline": "middle"},
     "encoding": {"x": {"datum": 170000, "type": "quantitative"}, "y": {"datum": 12, "type": "quantitative", "scale": {"domain": [0, 105], "nice": false}, "axis": {"values": [0,20,40,60,80,100], "title": "percent wells positive for CPE"}}, "text": {"field": "t"}}},
    {"data": {"values": [{"t": "PEC"}]},
     "layer": [
       {"mark": {"type": "rect", "fill": "white", "stroke": "black", "strokeWidth": 1.2, "cornerRadius": 2},
        "encoding": {"x": {"datum": 1.73, "type": "quantitative"}, "x2": {"datum": 5.71}, "y": {"datum": 24.3, "type": "quantitative", "scale": {"domain": [0, 105], "nice": false}, "axis": {"values": [0,20,40,60,80,100], "title": "percent wells positive for CPE"}}, "y2": {"datum": 16.6}}},
       {"mark": {"type": "text", "fontSize": 12, "fontWeight": "bold", "color": "black", "baseline": "middle"},
        "encoding": {"x": {"datum": 3.14, "type": "quantitative"}, "y": {"datum": 20.5, "type": "quantitative", "scale": {"domain": [0, 105], "nice": false}, "axis": {"values": [0,20,40,60,80,100], "title": "percent wells positive for CPE"}}, "text": {"field": "t"}}}
     ]},
    {"data": {"values": [{"t": "D."}]},
     "layer": [
       {"mark": {"type": "rect", "fill": "white", "stroke": "black", "strokeWidth": 1.5, "cornerRadius": 3},
        "encoding": {"x": {"datum": 0.0822, "type": "quantitative"}, "x2": {"datum": 0.383}, "y": {"datum": 142.3, "type": "quantitative", "scale": {"domain": [0, 105], "nice": false}, "axis": {"values": [0,20,40,60,80,100], "title": "percent wells positive for CPE"}}, "y2": {"datum": 125}}},
       {"mark": {"type": "text", "fontSize": 18, "fontWeight": "bold", "color": "black", "baseline": "middle"},
        "encoding": {"x": {"datum": 0.1775, "type": "quantitative"}, "y": {"datum": 133.6, "type": "quantitative", "scale": {"domain": [0, 105], "nice": false}, "axis": {"values": [0,20,40,60,80,100], "title": "percent wells positive for CPE"}}, "text": {"field": "t"}}}
     ]}
  ]
 }
]
}
